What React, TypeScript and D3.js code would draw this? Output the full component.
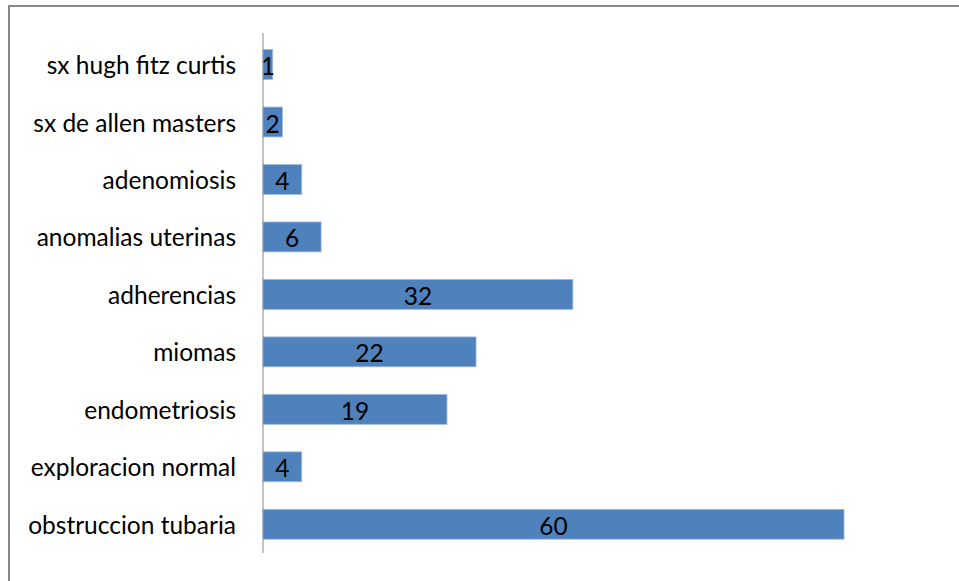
import React from "react";
import * as d3 from "d3";

const categories = [
  "sx hugh fitz curtis",
  "sx de allen masters",
  "adenomiosis",
  "anomalias uterinas",
  "adherencias",
  "miomas",
  "endometriosis",
  "exploracion normal",
  "obstruccion tubaria",
];
const values = [1, 2, 4, 6, 32, 22, 19, 4, 60];

const W = 959;
const H = 581;
const axisX = 263;
const axisTop = 33;
const axisBottom = 553;
const FONT = "Lato, 'Open Sans', sans-serif";

export default function App() {
  const x = d3.scaleLinear().domain([0, 60]).range([axisX, 844]);
  const y = d3
    .scaleBand<string>()
    .domain(categories)
    .range([35.8, 553])
    .paddingInner(0.48)
    .paddingOuter(0.24);

  return (
    <svg
      width={W}
      height={H}
      style={{ position: "absolute", left: 0, top: 0, background: "#fff" }}
    >
      <rect x={9} y={6} width={W + 10} height={H + 10} fill="#fff" stroke="#888" strokeWidth={2} />
      {categories.map((c, i) => {
        const by = y(c)!;
        const bh = y.bandwidth();
        const bx = x(0);
        const bw = x(values[i]) - x(0);
        return (
          <g key={c}>
            <rect x={bx} y={by} width={bw} height={bh} fill="#4F81BD" stroke="#9DB9DC" strokeWidth={0.8} />
            <text
              x={axisX - 27}
              y={by + bh / 2}
              textAnchor="end"
              dominantBaseline="central"
              fontFamily={FONT}
              fontSize={24.5}
              fill="#000"
            >
              {c}
            </text>
            <text
              x={bx + bw / 2}
              y={by + bh / 2 + 1}
              textAnchor="middle"
              dominantBaseline="central"
              fontFamily={FONT}
              fontSize={24.5}
              fill="#000"
            >
              {values[i]}
            </text>
          </g>
        );
      })}
      <line x1={axisX} x2={axisX} y1={axisTop} y2={axisBottom} stroke="#888" strokeWidth={1} />
    </svg>
  );
}
